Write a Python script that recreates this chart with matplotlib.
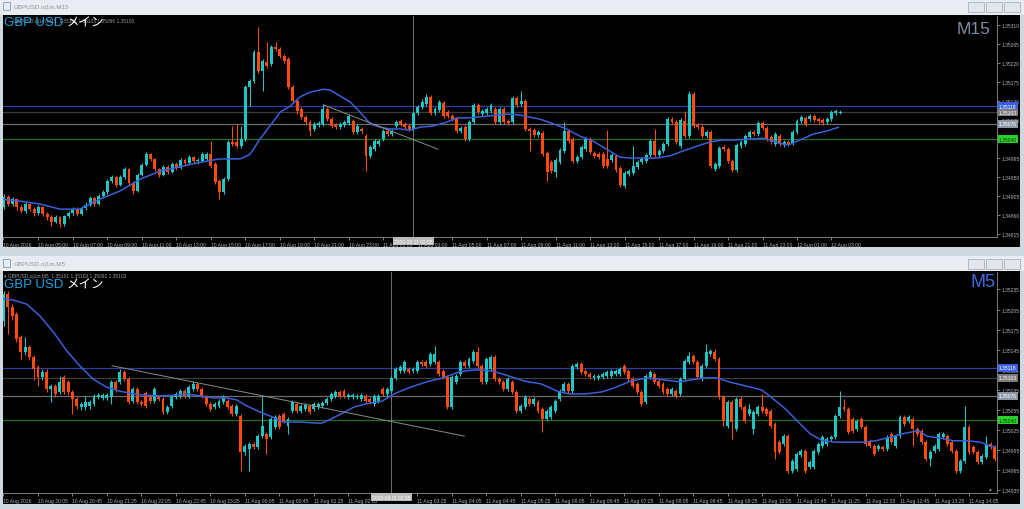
import numpy as np
import matplotlib
matplotlib.use("Agg")
import matplotlib.pyplot as plt
from matplotlib.patches import Rectangle

plt.rcParams['font.family'] = ['Liberation Sans', 'Noto Sans CJK JP', 'DejaVu Sans']

# ---------------- DATA (prices in points of 0.00001 above 1.35000) ----------------
# M15 panel (10 Aug 03:00 -> 12 Aug 03:30)
m15_open = [
    -121, -97, -114, -102, -121, -131, -114, -126, -136, -121,
    -138, -145, -157, -145, -161, -143, -136, -126, -138, -124,
    -116, -100, -114, -95, -86, -60, -50, -69, -50, -31,
    -64, -83, -45, -22, 4, -7, -31, -45, -26, -38,
    -19, -29, -10, -17, -3, -12,
    -12, -7, 4, -19,
    -60, -86, -55, 33, 33, 23, 40, 163, 177, 246,
    201, 222, 218, 258, 253, 237, 230, 163, 130, 111,
    92, 80, 64, 73, 76, 111, 87, 73, 68, 73,
    78, 83, 57, 64, 47, 0, 16, 28, 40, 59,
    52, 71, 83, 76, 71, 64, 102, 116, 123, 140,
    102, 109, 125, 104, 95, 87, 59, 68, 40, 80,
    121, 99, 102, 106, 111, 80, 111, 83, 80, 137,
    123, 130, 64, 61, 49, 54, 7, -15, -38, -15,
    12, 59, 40, -12, -3, 16, 40, 7, 4, 4,
    -7, -10, 0, -29, -71, -43, -41, -26, -15, -12,
    2, 35, 2, 12, 28, 87, 80, 23, 83, 47,
    147, 73, 68, 47, 57, -31, -24, 21, 16, -12,
    -33, 23, 28, 45, 57, 52, 78, 66, 45, 28,
    47, 26, 33, 31, 57, 83, 90, 87, 95, 87,
    85, 80, 87, 102, 102]
m15_close = [
    -97, -114, -102, -121, -131, -114, -126, -136, -121, -138,
    -145, -157, -145, -161, -143, -136, -126, -138, -124, -116,
    -100, -114, -95, -86, -60, -50, -69, -50, -31, -64,
    -83, -45, -22, 4, -7, -31, -45, -26, -38, -19,
    -29, -10, -17, -3, -12, -10,
    4, 4, -24, -62,
    -86, -55, 33, 28, 23, 40, 163, 177, 246, 201,
    225, 213, 258, 253, 237, 225, 163, 130, 106, 92,
    80, 59, 76, 78, 111, 87, 71, 68, 76, 80,
    95, 57, 71, 59, 0, 21, 35, 35, 59, 52,
    59, 80, 76, 68, 64, 102, 116, 128, 140, 102,
    111, 128, 95, 95, 87, 59, 66, 40, 80, 121,
    104, 106, 111, 121, 80, 111, 80, 78, 137, 121,
    130, 64, 59, 49, 57, 4, -38, -36, -10, 14,
    59, 35, -12, -3, 21, 40, 9, 0, -3, -24,
    -24, 2, -33, -69, -41, -36, -24, -15, -7, 2,
    35, 2, 12, 28, 87, 80, 33, 85, 47, 147,
    71, 68, 47, 57, -24, -19, 19, 16, -12, -33,
    26, 33, 47, 57, 52, 78, 66, 40, 33, 52,
    28, 33, 28, 57, 83, 92, 76, 95, 85, 83,
    78, 87, 104, 106, 104]
m15_high = [
    -90, -92, -98, -99, -116, -110, -111, -122, -117, -119,
    -133, -141, -140, -142, -139, -131, -120, -122, -119, -110,
    -95, -97, -90, -80, -55, -44, -47, -45, -26, -28,
    -60, -40, -17, 10, 8, -4, -28, -21, -22, -14,
    -15, -5, -6, 2, 0, -5,
    9, 9, 35, -15,
    -55, -50, 38, 71, 76, 71, 168, 182, 251, 305,
    230, 270, 263, 270, 258, 242, 235, 168, 135, 116,
    97, 85, 80, 83, 123, 116, 92, 78, 81, 85,
    100, 88, 76, 69, 52, 26, 40, 40, 64, 64,
    64, 85, 88, 81, 76, 107, 121, 135, 147, 145,
    116, 133, 130, 109, 100, 92, 71, 73, 85, 126,
    126, 111, 116, 125, 116, 116, 116, 88, 142, 142,
    154, 135, 69, 66, 62, 59, 12, -10, -5, 19,
    80, 64, 45, 2, 26, 45, 45, 12, 9, 9,
    61, 7, 5, -24, -36, -31, 23, -10, -2, 7,
    40, 64, 17, 33, 92, 92, 85, 90, 106, 154,
    152, 78, 73, 62, 62, -14, 24, 26, 21, -7,
    31, 38, 52, 62, 62, 83, 83, 71, 50, 57,
    52, 38, 38, 62, 88, 97, 95, 100, 100, 92,
    90, 92, 109, 111, 109]
m15_low = [
    -126, -119, -118, -128, -136, -134, -131, -142, -140, -143,
    -152, -165, -160, -168, -165, -147, -139, -142, -141, -128,
    -119, -118, -117, -99, -90, -64, -74, -72, -54, -68,
    -90, -86, -48, -25, -12, -36, -50, -48, -43, -41,
    -34, -32, -22, -20, -17, -18,
    -15, -10, -28, -66,
    -102, -90, -60, 24, 18, 18, 35, 118, 172, 196,
    154, 208, 213, 248, 232, 220, 158, 125, 100, 87,
    75, 47, 59, 68, 71, 82, 66, 63, 63, 68,
    73, 52, 52, 54, -36, -5, 11, 23, 35, 47,
    47, 66, 71, 63, 59, 59, 97, 111, 118, 97,
    97, 104, 90, 90, 82, 54, 54, 35, 35, 75,
    99, 94, 97, 101, 75, 75, 75, 73, 75, 116,
    118, 59, 12, 44, 44, -1, -60, -41, -50, -20,
    7, 30, -17, -17, -8, 11, 4, -5, -8, -29,
    -29, -15, -38, -74, -76, -48, -46, -31, -20, -17,
    -3, -3, -3, 7, 23, 75, 28, 18, 42, 42,
    66, 63, 42, 42, -29, -36, -29, 11, -17, -38,
    -38, 18, 23, 40, 47, 47, 61, 35, 28, 23,
    23, 21, 23, 26, 52, 78, 71, 82, 80, 78,
    73, 75, 82, 97, 99]
m15_ma_bar = [-0.9, 3.7, 8.4, 13, 17.6, 22.3, 26.9, 31.6, 36.2, 40.8,
              45.5, 50.1, 54.8, 57.1, 59.4, 61.7, 64.1, 66.4, 68.7, 71,
              74.1, 75.7, 78, 80.3, 82.6, 85, 87.3, 89.6, 91.9, 94.2,
              96.5, 99.6, 102.7, 105, 107.4, 109.7, 112.8, 116.6, 119.7, 122,
              124.4, 127.5, 130.5, 133.6, 136.7, 139.8, 142.9, 145.2, 148.3, 151.4,
              154.5, 157.6, 160.7, 163.8, 166.9, 170, 173, 176.2, 178.5, 180.8,
              182, 184.7, 187.8, 190.9, 193.6]
m15_ma = [-102, -107, -114, -126, -126, -102, -83, -55, -36, -26,
          -15, -7, -7, 4, 40, 71, 104, 118, 140, 151,
          158, 156, 142, 128, 104, 76, 68, 64, 64, 61,
          68, 71, 80, 90, 90, 92, 95, 99, 97, 92,
          87, 76, 64, 47, 35, 16, -3, -5, -5, -5,
          0, 12, 23, 33, 38, 38, 40, 42, 35, 28,
          26, 38, 52, 59, 68]
m15_trend_bar = [74.1, 100.7]
m15_trend = [121, 16]
m15_cross_bar = 95
m15_time_labels = ['10 Aug 05:00', '10 Aug 07:00', '10 Aug 09:00', '10 Aug 11:00',
                   '10 Aug 13:00', '10 Aug 15:00', '10 Aug 17:00', '10 Aug 19:00',
                   '10 Aug 21:00', '10 Aug 23:00', '11 Aug 01:00', '11 Aug 03:00',
                   '11 Aug 05:00', '11 Aug 07:00', '11 Aug 09:00', '11 Aug 11:00',
                   '11 Aug 13:00', '11 Aug 15:00', '11 Aug 17:00', '11 Aug 19:00',
                   '11 Aug 21:00', '11 Aug 23:00', '12 Aug 01:00', '12 Aug 03:00']
m15_price_ticks = [1.35310, 1.35265, 1.35220, 1.35175, 1.35130, 1.35085,
                   1.35040, 1.34995, 1.34950, 1.34905, 1.34860, 1.34815]

# M5 panel (10 Aug 19:25 -> 11 Aug 14:35)
m5_open = [
    188, 228, 209, 198, 164, 141, 149, 134, 119, 104,
    112, 86, 91, 82, 104, 97, 82, 71, 59, 59,
    61, 64, 74, 73, 73, 74, 97, 97, 112, 101,
    68, 86, 67, 80, 74, 68, 74, 71, 52, 61,
    74, 76, 83, 76, 86, 94, 86, 74, 64, 59,
    61, 67, 68, 61, 49, 46, -8, -3, 4, 0,
    16, 19, 15, 30, 46, 49, 31, 53, 64, 53,
    56, 61, 56, 59, 61, 65, 71, 76, 82, 83,
    74, 74, 74, 71, 76, 71, 64, 68, 86, 79,
    83, 103, 113, 113, 116, 113, 113, 127, 127, 124,
    127, 127, 113, 104, 59, 97, 109, 127, 121, 128,
    141, 121, 97, 116, 134, 101, 97, 86, 97, 82,
    53, 59, 71, 64, 67, 56, 41, 44, 53, 71,
    83, 94, 83, 119, 124, 113, 109, 103, 103, 104,
    106, 106, 109, 109, 121, 113, 101, 94, 82, 67,
    104, 109, 98, 94, 86, 79, 83, 79, 101, 127,
    136, 127, 101, 121, 139, 141, 131, 74, 31, 67,
    27, 71, 59, 49, 27, 49, 59, 56, 53, 34,
    7, 4, 16, -36, -33, -12, -6, -30, -30, -8,
    1, 4, 12, 15, 46, 59, 56, 41, 27, 41,
    30, 9, 1, -3, 0, -3, 19, 1, 16, 44,
    39, 41, 27, 24, 7, -18, -6, -3, 15, 16,
    7, -6, -36, -21, 30, 0, -8, -23, -15, 4,
    0]
m5_close = [
    228, 209, 195, 161, 141, 149, 134, 116, 104, 112,
    86, 91, 79, 97, 82, 82, 71, 61, 64, 67,
    67, 76, 77, 77, 77, 97, 86, 112, 101, 67,
    86, 67, 64, 61, 68, 86, 71, 52, 59, 74,
    79, 83, 76, 89, 94, 86, 76, 64, 56, 64,
    68, 74, 59, 49, 61, -8, 1, 4, 0, 16,
    31, 12, 41, 44, 30, 39, 41, 67, 53, 61,
    62, 52, 64, 64, 65, 71, 79, 82, 76, 76,
    77, 77, 76, 77, 68, 67, 76, 76, 79, 86,
    103, 116, 119, 127, 112, 116, 127, 124, 121, 139,
    139, 109, 104, 59, 104, 106, 127, 121, 131, 141,
    121, 97, 131, 134, 101, 97, 86, 101, 82, 53,
    61, 74, 64, 71, 53, 41, 53, 59, 68, 83,
    94, 83, 121, 124, 112, 109, 104, 106, 106, 109,
    112, 113, 113, 116, 112, 101, 91, 82, 64, 106,
    112, 97, 91, 82, 79, 86, 76, 101, 128, 136,
    127, 104, 121, 141, 143, 131, 74, 39, 67, 37,
    71, 59, 39, 56, 52, 59, 53, 49, 31, -8,
    -8, 16, -36, -21, -11, -6, -36, -23, -6, 4,
    15, 12, 15, 46, 59, 56, 22, 24, 39, 30,
    4, 1, -11, 1, -3, 15, 7, 16, 44, 34,
    44, 27, 19, 7, -18, -8, 1, 19, 19, 4,
    -6, -36, -21, 30, -8, -8, -23, -14, 4, 0,
    -18]
m5_high = [
    232, 232, 213, 202, 167, 164, 152, 137, 122, 116,
    116, 94, 94, 106, 107, 100, 85, 74, 67, 76,
    70, 79, 80, 80, 80, 100, 100, 116, 115, 104,
    89, 89, 70, 83, 77, 89, 77, 74, 62, 77,
    82, 86, 86, 92, 98, 97, 89, 77, 67, 67,
    71, 77, 71, 64, 64, 49, 4, 7, 7, 19,
    76, 22, 44, 47, 49, 52, 44, 70, 67, 64,
    65, 64, 67, 67, 68, 74, 82, 85, 85, 86,
    80, 80, 79, 80, 79, 74, 79, 79, 89, 89,
    106, 119, 122, 130, 119, 119, 130, 130, 130, 142,
    150, 130, 116, 107, 107, 109, 130, 130, 134, 144,
    149, 124, 134, 137, 137, 104, 100, 104, 100, 85,
    64, 77, 74, 74, 70, 59, 56, 62, 71, 86,
    97, 97, 124, 127, 127, 116, 112, 109, 109, 112,
    115, 116, 116, 119, 124, 116, 104, 97, 85, 109,
    115, 112, 101, 97, 89, 89, 86, 104, 131, 141,
    139, 130, 124, 153, 146, 146, 134, 77, 70, 70,
    74, 74, 62, 64, 55, 62, 79, 59, 56, 37,
    10, 19, 19, -18, -8, -3, -3, -20, -3, 7,
    18, 15, 18, 49, 83, 71, 59, 44, 42, 44,
    33, 12, 4, 4, 3, 18, 22, 19, 47, 47,
    47, 44, 30, 27, 10, -5, 4, 22, 22, 19,
    10, -3, -18, 61, 33, 3, -5, -11, 16, 7,
    3]
m5_low = [
    180, 168, 190, 156, 131, 137, 130, 100, 91, 100,
    82, 67, 75, 79, 79, 78, 49, 57, 55, 55,
    57, 61, 71, 70, 70, 64, 82, 94, 98, 64,
    65, 64, 61, 58, 65, 65, 68, 49, 49, 58,
    71, 73, 73, 73, 83, 83, 73, 61, 53, 56,
    58, 64, 56, 46, 46, -36, -12, -36, -3, -3,
    13, -11, 12, 27, 27, 36, 19, 50, 50, 50,
    53, 49, 53, 56, 58, 62, 68, 73, 73, 73,
    71, 71, 71, 68, 65, 64, 61, 65, 76, 76,
    80, 100, 110, 110, 109, 110, 110, 121, 118, 121,
    124, 106, 101, 56, 56, 94, 106, 118, 118, 125,
    118, 94, 94, 113, 98, 94, 83, 83, 79, 50,
    50, 56, 61, 61, 50, 22, 38, 41, 50, 68,
    80, 80, 80, 116, 109, 106, 101, 100, 100, 101,
    103, 103, 106, 106, 109, 98, 88, 79, 61, 64,
    101, 94, 88, 79, 76, 76, 73, 76, 98, 124,
    124, 101, 98, 118, 136, 128, 71, 31, 28, 12,
    24, 56, 36, 46, 19, 46, 50, 46, 28, -18,
    -11, 1, -39, -39, -36, -15, -39, -33, -33, -11,
    -2, 1, 9, 12, 43, 53, 19, 21, 24, 27,
    1, -2, -14, -6, -6, -6, 4, -2, 13, 31,
    36, 1, 16, 4, -21, -29, -9, -6, 12, 1,
    -9, -39, -39, -24, -11, -11, -26, -26, -18, -3,
    -21]
m5_ma_bar = [0, 2.3, 5.4, 8.5, 11.6, 14.7, 17.7, 20.8, 23.9, 27,
             30.1, 33.2, 36.3, 39.4, 42.5, 45.6, 48.7, 51.8, 54.1, 56.4,
             59.5, 62.6, 64.9, 68.8, 73.6, 74.5, 78.3, 81.2, 84, 87.8,
             90.6, 94.4, 98.2, 102, 105.8, 109.6, 113.4, 117.1, 120.9, 124.7,
             128.5, 131.3, 135.1, 138.9, 141.7, 145.5, 149.3, 153.1, 156.9, 159.7,
             162.6, 165.4, 168.3, 172.1, 175.9, 178.7, 181.5, 184.4, 187.2, 190.1,
             192.9, 196.7, 199.5, 202.4, 206.1, 209, 212.3, 214.2, 217.3, 220.4,
             223.5, 226.6, 228.9, 230]
m5_ma = [221, 219, 213, 195, 171, 143, 121, 101, 89, 83,
         79, 77, 76, 77, 79, 76, 73, 73, 70, 61,
         52, 44, 37, 37, 35, 37, 49, 59, 64, 68,
         79, 89, 97, 103, 112, 115, 113, 106, 98, 94,
         83, 79, 79, 82, 88, 98, 103, 100, 97, 100,
         103, 103, 97, 91, 85, 71, 56, 37, 19, 9,
         7, 7, 7, 9, 15, 20, 24, 16, 13, 9,
         9, 7, 1, 0]
m5_trend_bar = [25.2, 106.9]
m5_trend = [121, 16]
m5_cross_bar = 90
m5_time_labels = ['10 Aug 20:05', '10 Aug 20:45', '10 Aug 21:25', '10 Aug 22:05',
                  '10 Aug 22:45', '10 Aug 23:25', '11 Aug 00:05', '11 Aug 00:45',
                  '11 Aug 01:25', '11 Aug 02:05', '11 Aug 02:45', '11 Aug 03:25',
                  '11 Aug 04:05', '11 Aug 04:45', '11 Aug 05:25', '11 Aug 06:05',
                  '11 Aug 06:45', '11 Aug 07:25', '11 Aug 08:05', '11 Aug 08:45',
                  '11 Aug 09:25', '11 Aug 10:05', '11 Aug 10:45', '11 Aug 11:25',
                  '11 Aug 12:05', '11 Aug 12:45', '11 Aug 13:25', '11 Aug 14:05']
m5_price_ticks = [1.35235, 1.35205, 1.35175, 1.35145, 1.35115, 1.35085,
                  1.35055, 1.35025, 1.34995, 1.34965, 1.34935]

level_prices = [1.35118, 1.35103, 1.35076, 1.35040]
cross_time_label = '2026.08.11 02:55'
first_time_label = '10 Aug 2026'

for arrs in ((m15_open, m15_high, m15_low, m15_close), (m5_open, m5_high, m5_low, m5_close)):
    lens = [len(a) for a in arrs]
    assert len(set(lens)) == 1, lens

# ---------------- STYLE ----------------
BULL = '#1fc6c6'
BEAR = '#ff4a0d'
MA_C = '#3b5fd8'
LEVEL_LINE = ['#2a3f9e', '#3c3c3c', '#6a6a6a', '#1d701d']
LEVEL_BOX = ['#3c5fe0', '#7c7c7c', '#8c98a6', '#2bd12b']
LEVEL_TXT = ['white', 'white', 'white', '#0b3b0b']
AX_TXT = '#b0b0b0'

W, H = 1024, 510
fig = plt.figure(figsize=(W / 100, H / 100), dpi=100)
fig.patch.set_facecolor('#cfd7df')

bg = fig.add_axes([0, 0, 1, 1])
bg.set_xlim(0, W); bg.set_ylim(H, 0); bg.axis('off')


def window(y0, y_client0, y_client1, title):
    bg.add_patch(Rectangle((0, y0), W, y_client0 - y0, fc='#e9edf1', ec='none'))
    bg.add_patch(Rectangle((3, y0 + 3), 7, 8, fc='none', ec='#7b9cc0', lw=0.6))
    bg.text(14, y0 + 7.5, title, fontsize=4.5, color='#8d96a0', va='center', ha='left')
    for bx in (968, 986, 1004):
        bg.add_patch(Rectangle((bx, y0 + 3), 16, 10, fc='#e2e7ec', ec='#a9b2bc', lw=0.6))
    bg.add_patch(Rectangle((3, y_client0), 1017, y_client1 - y_client0, fc='black', ec='none'))


window(0, 16, 248, 'GBPUSD.oj1m,M15')
window(257, 272, 505, 'GBPUSD.oj1m,M5')


def px_axes(x0, y0, x1, y1):
    return fig.add_axes([x0 / W, 1 - y1 / H, (x1 - x0) / W, (y1 - y0) / H])


def P(v):
    return 1.35 + np.asarray(v, dtype=float) / 1e5


def panel(ax, o, h, l, c, ma_x, ma_v, tr_x, tr_v, cross_x, tlabels, pticks, xlim, ylim,
          minh, hidden_price=(), hidden_time=()):
    ax.set_facecolor('black')
    O, Hh, L, C = P(o), P(h), P(l), P(c)
    x = np.arange(len(O))
    cols = np.where(C >= O, BULL, BEAR)
    for lv, lc in zip(level_prices, LEVEL_LINE):
        ax.axhline(lv, color=lc, lw=0.9, zorder=1)
    ax.axvline(cross_x, color='#6f6f6f', lw=0.7, zorder=1)
    ax.vlines(x, L, Hh, colors=cols, lw=0.75, zorder=3)
    ax.bar(x, np.maximum(np.abs(C - O), minh), width=0.68, bottom=np.minimum(O, C),
           color=cols, edgecolor='none', linewidth=0, zorder=4)
    ax.plot(ma_x, P(ma_v), color=MA_C, lw=1.1, zorder=5)
    ax.plot(tr_x, P(tr_v), color='#8a8a8a', lw=0.7, zorder=5)
    ax.set_xlim(*xlim)
    ax.set_ylim(*ylim)
    for s in ('top', 'left'):
        ax.spines[s].set_visible(False)
    for s in ('right', 'bottom'):
        ax.spines[s].set_color('#7a7a7a')
        ax.spines[s].set_linewidth(0.7)
    ax.yaxis.tick_right()
    ax.set_yticks(pticks)
    ax.set_yticklabels([f'{t:.5f}' for t in pticks])
    ax.tick_params(axis='y', labelsize=3.6, colors=AX_TXT, length=2.5, width=0.5, pad=1)
    for t, lab in zip(pticks, ax.get_yticklabels()):
        if any(abs(t - hp) < 1e-9 for hp in hidden_price):
            lab.set_visible(False)   # covered by a level box in the reference
    pos = [xlim[0]] + list(range(8, 8 * len(tlabels) + 1, 8))
    ax.set_xticks(pos)
    ax.set_xticklabels([first_time_label] + tlabels)
    ax.tick_params(axis='x', labelsize=3.6, colors=AX_TXT, length=2.5, width=0.5, pad=0.8)
    for t in ax.get_xticklabels():
        t.set_ha('left')
        if t.get_text() in hidden_time:
            t.set_visible(False)     # covered by the crosshair date box in the reference
    for lv, fc, tc in zip(level_prices, LEVEL_BOX, LEVEL_TXT):
        ax.annotate(f'{lv:.5f}', xy=(1.0, lv), xycoords=('axes fraction', 'data'),
                    xytext=(1.4, 0), textcoords='offset points', ha='left', va='center',
                    fontsize=3.6, color=tc, annotation_clip=False, zorder=10,
                    bbox=dict(boxstyle='square,pad=0.25', fc=fc, ec='none'))
    ax.annotate(cross_time_label, xy=(cross_x, 0), xycoords=('data', 'axes fraction'),
                xytext=(0, -3.2), textcoords='offset points', ha='center', va='center',
                fontsize=3.6, color='white', annotation_clip=False, zorder=10,
                bbox=dict(boxstyle='square,pad=0.3', fc='#b9b9b9', ec='none'))


ax1 = px_axes(3, 17, 997, 238)
panel(ax1, m15_open, m15_high, m15_low, m15_close, m15_ma_bar, m15_ma,
      m15_trend_bar, m15_trend, m15_cross_bar, m15_time_labels, m15_price_ticks,
      (-0.23, 230.4), (P(-192), P(331.5)), 2.4e-5,
      hidden_price=(1.35040,))

ax2 = px_axes(3, 273, 997, 494)
panel(ax2, m5_open, m5_high, m5_low, m5_close, m5_ma_bar, m5_ma,
      m5_trend_bar, m5_trend, m5_cross_bar, m5_time_labels, m5_price_ticks,
      (-0.12, 230.5), (P(-69), P(261)), 1.5e-5,
      hidden_time=('11 Aug 02:45',))

# overlay texts
fg = fig.add_axes([0, 0, 1, 1], zorder=20)
fg.set_xlim(0, W); fg.set_ylim(H, 0); fg.axis('off'); fg.patch.set_alpha(0)

fg.text(13, 21, 'GBPUSD.oj1m,M15  1.35101 1.35103 1.35096 1.35103', fontsize=3.5,
        color='#9a9a9a', va='center', ha='left')
fg.text(4, 277, '\u25be GBPUSD.oj1m,M5  1.35101 1.35103 1.35091 1.35103', fontsize=3.5,
        color='#9a9a9a', va='center', ha='left')
for yc in (23.5, 285.5):
    fg.text(4, yc, 'GBP USD', fontsize=9.5, color='#1ca3e6', va='center', ha='left')
    fg.text(67, yc, 'メイン', fontsize=9, color='white', va='center', ha='left')
fg.text(990, 29, 'M15', fontsize=12.5, color='#7f8ca0', va='center', ha='right')
fg.text(996, 283, 'M5', fontsize=13, color='#3d6ae0', va='center', ha='right')
fg.text(989, 490, '\u25b2', fontsize=3.5, color='#8a8a8a', va='center', ha='center')

fig.savefig('out.png', dpi=100, facecolor=fig.get_facecolor())
